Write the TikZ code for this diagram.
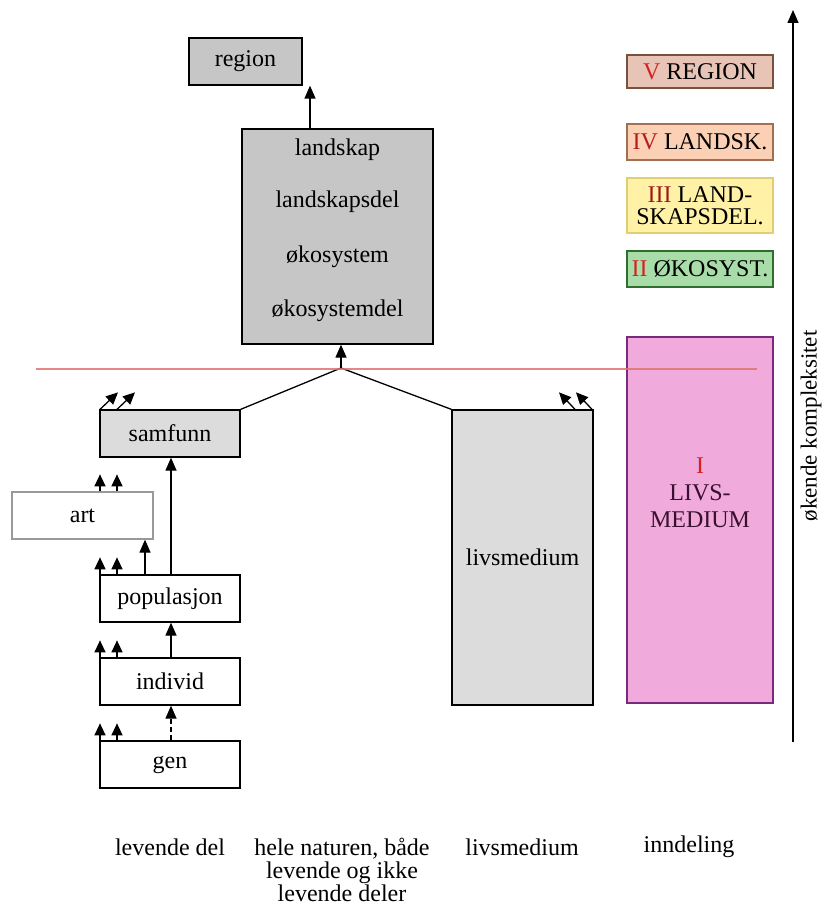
\documentclass[tikz,border=0pt]{standalone}
\usepackage{fontspec}
\setmainfont{Liberation Serif}
\usetikzlibrary{arrows.meta}
\definecolor{boxgray}{HTML}{C6C6C6}
\definecolor{lightgray2}{HTML}{DCDCDC}
\definecolor{redline}{HTML}{E07272}
\definecolor{numred}{HTML}{D42222}
\definecolor{vfill}{HTML}{E8C4B6}
\definecolor{vdraw}{HTML}{7A5040}
\definecolor{ivfill}{HTML}{FCD0B4}
\definecolor{ivdraw}{HTML}{A07050}
\definecolor{iiifill}{HTML}{FFF2A6}
\definecolor{iiidraw}{HTML}{E2CE72}
\definecolor{iifill}{HTML}{A8DCA8}
\definecolor{iidraw}{HTML}{2E6E2E}
\definecolor{ifill}{HTML}{F0AADC}
\definecolor{idraw}{HTML}{7A2A7A}
\definecolor{itext}{HTML}{3A1030}
\tikzset{
  box/.style={draw, line width=1.3pt, inner sep=0pt, font=\fontsize{24}{28}\selectfont},
  lbl/.style={inner sep=0pt, font=\fontsize{24}{28}\selectfont, align=center},
  arr/.style={line width=1.3pt, -{Triangle[length=13pt,width=11pt]}},
  small/.style={line width=1.3pt, -{Triangle[length=12pt,width=11pt]}},
}
\begin{document}
\begin{tikzpicture}[x=1pt,y=-1pt]
\useasboundingbox (0,0) rectangle (824,909);
% left structure
\node[box, fill=boxgray, minimum width=113pt, minimum height=47pt] (region) at (245.5,61.5) {region};
\node[box, fill=boxgray, minimum width=191pt, minimum height=215pt] (land) at (337.5,236.5) {};
\node[lbl] (t1) at (337.5,150) {landskap};
\node[lbl] (t2) at (337.5,202) {landskapsdel};
\node[lbl] (t3) at (337.5,257) {økosystem};
\node[lbl] (t4) at (337.5,311) {økosystemdel};
\draw[arr] (land.north -| 310,0) -- (region.south -| 310,0);

\node[box, fill=lightgray2, minimum width=140pt, minimum height=47pt] (samfunn) at (170,433.5) {samfunn};
\node[box, draw=gray!80, fill=white, minimum width=141pt, minimum height=47pt] (art) at (82.5,515.5) {art};
\node[box, fill=white, minimum width=140pt, minimum height=47pt] (pop) at (170,598.5) {populasjon};
\node[box, fill=white, minimum width=140pt, minimum height=47pt] (ind) at (170,681.5) {individ};
\node[box, fill=white, minimum width=140pt, minimum height=47pt] (gen) at (170,764.5) {gen};
\node[box, fill=lightgray2, minimum width=141pt, minimum height=295pt] (livs) at (522.5,557.5) {livsmedium};

% apex
\coordinate (apex) at (341,368);
\draw[line width=1.3pt] (samfunn.north east) -- (apex) -- (livs.north west);
\draw[arr] (apex) -- (apex |- land.south);

% vertical connectors
\draw[arr] (pop.north -| 171,0) -- (samfunn.south -| 171,0);
\draw[arr] (ind.north -| 171,0) -- (pop.south -| 171,0);
\draw[arr, dash pattern=on 5pt off 3pt] (gen.north -| 171,0) -- (ind.south -| 171,0);
\draw[arr] (pop.north -| 145,0) -- (art.south -| 145,0);

% small arrows
\foreach \b in {art, pop, ind, gen}{
  \draw[small] (\b.north -| 100,0) -- ++(0,-17);
  \draw[small] (\b.north -| 117,0) -- ++(0,-17);
}
\draw[small] (samfunn.north -| 100,0) -- ++(18,-17);
\draw[small] (samfunn.north -| 117,0) -- ++(18,-17);
\draw[small] (livs.north -| 575,0) -- ++(-16,-17);
\draw[small] (livs.north -| 592,0) -- ++(-16,-17);

% right column
\node[box, fill=vfill, draw=vdraw, minimum width=146pt, minimum height=33pt] (V) at (700,71.5) {\textcolor{numred}{V} REGION};
\node[box, fill=ivfill, draw=ivdraw, minimum width=146pt, minimum height=36pt] (IV) at (700,142) {\textcolor{numred!85!black}{IV} LANDSK.};
\node[box, fill=iiifill, draw=iiidraw, minimum width=146pt, minimum height=55pt, align=center, font=\fontsize{24}{22}\selectfont] (III) at (700,205.5) {\textcolor{numred!75!black}{III} LAND-\\SKAPSDEL.};
\node[box, fill=iifill, draw=iidraw, minimum width=146pt, minimum height=36pt] (II) at (700,269) {\textcolor{numred}{II} ØKOSYST.};
\node[box, fill=ifill, draw=idraw, minimum width=146pt, minimum height=366pt] (I) at (700,520) {};
\node[lbl, align=center, text=itext, font=\fontsize{24}{27}\selectfont] (Itxt) at (700,493) {\textcolor{numred}{I}\\LIVS-\\MEDIUM};

% red line
\coordinate (rl1) at (36,369);
\coordinate (rl2) at (757,369);
\draw[redline, line width=2pt, opacity=0.85] (rl1) -- (rl2);

% axis
\coordinate (ax1) at (793,742);
\coordinate (ax2) at (793,10);
\draw[arr] (ax1) -- (ax2);
\node[lbl, rotate=90, font=\fontsize{23}{27}\selectfont] (axlbl) at (811,426) {økende kompleksitet};

% bottom labels
\node[lbl] (b1) at (170,847) {levende del};
\node[lbl, font=\fontsize{24}{23}\selectfont] (b2) at (342,870) {hele naturen, både\\levende og ikke\\levende deler};
\node[lbl] (b3) at (522,847) {livsmedium};
\node[lbl] (b4) at (689,847) {inndeling};
\end{tikzpicture}
\end{document}
